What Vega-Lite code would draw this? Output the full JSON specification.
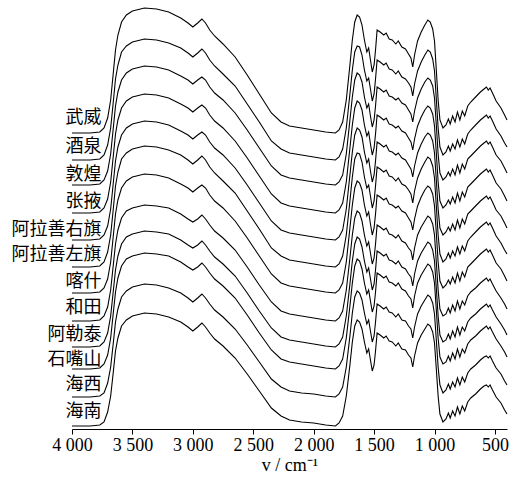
{
  "$schema": "https://vega.github.io/schema/vega-lite/v6.json",
  "autosize": {"type": "none"},
  "width": 435,
  "height": 424,
  "padding": {"left": 72, "right": 3, "top": 5, "bottom": 51},
  "config": {"view": {"stroke": null}, "background": "white"},
  "datasets": {
    "spectra": [
      {"w":4000,"武威":296,"酒泉":269,"敦煌":244,"张掖":216,"阿拉善右旗":189,"阿拉善左旗":162,"喀什":136,"和田":108,"阿勒泰":82,"石嘴山":60,"海西":32,"海南":3},
      {"w":3850,"武威":296,"酒泉":269,"敦煌":244,"张掖":216,"阿拉善右旗":189,"阿拉善左旗":162,"喀什":136,"和田":108,"阿勒泰":82,"石嘴山":60,"海西":32,"海南":3},
      {"w":3770,"武威":297,"酒泉":270,"敦煌":245,"张掖":217,"阿拉善右旗":190,"阿拉善左旗":163,"喀什":137,"和田":109,"阿勒泰":83,"石嘴山":61,"海西":33,"海南":4},
      {"w":3735,"武威":301,"酒泉":274,"敦煌":249,"张掖":221,"阿拉善右旗":194,"阿拉善左旗":167,"喀什":141,"和田":113,"阿勒泰":87,"石嘴山":65,"海西":36,"海南":7},
      {"w":3705,"武威":311,"酒泉":284,"敦煌":258,"张掖":230,"阿拉善右旗":203,"阿拉善左旗":177,"喀什":150,"和田":122,"阿勒泰":96,"石嘴山":74,"海西":46,"海南":17},
      {"w":3680,"武威":329,"酒泉":301,"敦煌":275,"张掖":247,"阿拉善右旗":220,"阿拉善左旗":194,"喀什":167,"和田":139,"阿勒泰":113,"石嘴山":91,"海西":62,"海南":33},
      {"w":3660,"武威":354,"酒泉":325,"敦煌":299,"张掖":271,"阿拉善右旗":244,"阿拉善左旗":218,"喀什":191,"和田":162,"阿勒泰":136,"石嘴山":114,"海西":84,"海南":55},
      {"w":3640,"武威":379,"酒泉":350,"敦煌":323,"张掖":295,"阿拉善右旗":268,"阿拉善左旗":243,"喀什":215,"和田":185,"阿勒泰":159,"石嘴山":137,"海西":107,"海南":78},
      {"w":3620,"武威":394,"酒泉":364,"敦煌":337,"张掖":309,"阿拉善右旗":282,"阿拉善左旗":257,"喀什":229,"和田":199,"阿勒泰":173,"石嘴山":151,"海西":120,"海南":91},
      {"w":3590,"武威":407,"酒泉":377,"敦煌":349,"张掖":321,"阿拉善右旗":294,"阿拉善左旗":270,"喀什":241,"和田":211,"阿勒泰":185,"石嘴山":163,"海西":132,"海南":103},
      {"w":3550,"武威":414,"酒泉":383,"敦煌":356,"张掖":328,"阿拉善右旗":301,"阿拉善左旗":276,"喀什":248,"和田":218,"阿勒泰":192,"石嘴山":170,"海西":138,"海南":109},
      {"w":3500,"武威":418,"酒泉":387,"敦煌":360,"张掖":332,"阿拉善右旗":305,"阿拉善左旗":280,"喀什":252,"和田":221,"阿勒泰":195,"石嘴山":173,"海西":142,"海南":113},
      {"w":3400,"武威":421,"酒泉":390,"敦煌":363,"张掖":335,"阿拉善右旗":308,"阿拉善左旗":283,"喀什":255,"和田":224,"阿勒泰":198,"石嘴山":176,"海西":145,"海南":116},
      {"w":3300,"武威":420,"酒泉":389,"敦煌":362,"张掖":334,"阿拉善右旗":307,"阿拉善左旗":282,"喀什":254,"和田":223,"阿勒泰":197,"石嘴山":175,"海西":144,"海南":115},
      {"w":3200,"武威":417,"酒泉":386,"敦煌":359,"张掖":331,"阿拉善右旗":304,"阿拉善左旗":279,"喀什":251,"和田":221,"阿勒泰":195,"石嘴山":173,"海西":141,"海南":112},
      {"w":3100,"武威":411,"酒泉":381,"敦煌":353,"张掖":325,"阿拉善右旗":298,"阿拉善左旗":274,"喀什":245,"和田":215,"阿勒泰":189,"石嘴山":167,"海西":136,"海南":107},
      {"w":3040,"武威":406,"酒泉":376,"敦煌":349,"张掖":321,"阿拉善右旗":294,"阿拉善左旗":269,"喀什":241,"和田":210,"阿勒泰":184,"石嘴山":162,"海西":131,"海南":102},
      {"w":3000,"武威":402,"酒泉":372,"敦煌":345,"张掖":317,"阿拉善右旗":290,"阿拉善左旗":265,"喀什":237,"和田":207,"阿勒泰":181,"石嘴山":159,"海西":127,"海南":98},
      {"w":2960,"武威":406,"酒泉":376,"敦煌":349,"张掖":321,"阿拉善右旗":294,"阿拉善左旗":269,"喀什":241,"和田":210,"阿勒泰":184,"石嘴山":162,"海西":131,"海南":102},
      {"w":2925,"武威":410,"酒泉":380,"敦煌":352,"张掖":324,"阿拉善右旗":297,"阿拉善左旗":273,"喀什":244,"和田":214,"阿勒泰":188,"石嘴山":166,"海西":135,"海南":106},
      {"w":2895,"武威":406,"酒泉":376,"敦煌":349,"张掖":321,"阿拉善右旗":294,"阿拉善左旗":269,"喀什":241,"和田":210,"阿勒泰":184,"石嘴山":162,"海西":131,"海南":102},
      {"w":2860,"武威":399,"酒泉":369,"敦煌":342,"张掖":314,"阿拉善右旗":287,"阿拉善左旗":262,"喀什":234,"和田":204,"阿勒泰":178,"石嘴山":156,"海西":125,"海南":96},
      {"w":2820,"武威":393,"酒泉":363,"敦煌":336,"张掖":308,"阿拉善右旗":281,"阿拉善左旗":256,"喀什":228,"和田":198,"阿勒泰":172,"石嘴山":150,"海西":119,"海南":90},
      {"w":2750,"武威":385,"酒泉":355,"敦煌":329,"张掖":301,"阿拉善右旗":274,"阿拉善左旗":248,"喀什":221,"和田":191,"阿勒泰":165,"石嘴山":143,"海西":112,"海南":83},
      {"w":2650,"武威":372,"酒泉":343,"敦煌":316,"张掖":288,"阿拉善右旗":261,"阿拉善左旗":236,"喀什":208,"和田":179,"阿勒泰":153,"石嘴山":131,"海西":100,"海南":71},
      {"w":2550,"武威":354,"酒泉":325,"敦煌":299,"张掖":271,"阿拉善右旗":244,"阿拉善左旗":218,"喀什":191,"和田":162,"阿勒泰":136,"石嘴山":114,"海西":84,"海南":55},
      {"w":2450,"武威":335,"酒泉":307,"敦煌":281,"张掖":253,"阿拉善右旗":226,"阿拉善左旗":200,"喀什":173,"和田":144,"阿勒泰":118,"石嘴山":96,"海西":67,"海南":38},
      {"w":2350,"武威":316,"酒泉":288,"敦煌":263,"张掖":235,"阿拉善右旗":208,"阿拉善左旗":181,"喀什":155,"和田":127,"阿勒泰":101,"石嘴山":79,"海西":50,"海南":21},
      {"w":2270,"武威":307,"酒泉":280,"敦煌":254,"张掖":226,"阿拉善右旗":199,"阿拉善左旗":173,"喀什":146,"和田":118,"阿勒泰":92,"石嘴山":70,"海西":42,"海南":13},
      {"w":2200,"武威":303,"酒泉":276,"敦煌":251,"张掖":223,"阿拉善右旗":196,"阿拉善左旗":169,"喀什":143,"和田":115,"阿勒泰":89,"石嘴山":67,"海西":38,"海南":9},
      {"w":2100,"武威":301,"酒泉":274,"敦煌":249,"张掖":221,"阿拉善右旗":194,"阿拉善左旗":167,"喀什":141,"和田":113,"阿勒泰":87,"石嘴山":65,"海西":36,"海南":7},
      {"w":2000,"武威":299,"酒泉":272,"敦煌":247,"张掖":219,"阿拉善右旗":192,"阿拉善左旗":165,"喀什":139,"和田":111,"阿勒泰":85,"石嘴山":63,"海西":35,"海南":6},
      {"w":1900,"武威":297,"酒泉":270,"敦煌":245,"张掖":217,"阿拉善右旗":190,"阿拉善左旗":163,"喀什":137,"和田":109,"阿勒泰":83,"石嘴山":61,"海西":33,"海南":4},
      {"w":1820,"武威":296,"酒泉":269,"敦煌":244,"张掖":216,"阿拉善右旗":189,"阿拉善左旗":162,"喀什":136,"和田":108,"阿勒泰":82,"石嘴山":60,"海西":32,"海南":3},
      {"w":1790,"武威":299,"酒泉":272,"敦煌":247,"张掖":219,"阿拉善右旗":192,"阿拉善左旗":165,"喀什":139,"和田":111,"阿勒泰":85,"石嘴山":63,"海西":35,"海南":6},
      {"w":1760,"武威":307,"酒泉":280,"敦煌":254,"张掖":226,"阿拉善右旗":199,"阿拉善左旗":173,"喀什":146,"和田":118,"阿勒泰":92,"石嘴山":70,"海西":42,"海南":13},
      {"w":1730,"武威":329,"酒泉":301,"敦煌":275,"张掖":247,"阿拉善右旗":220,"阿拉善左旗":194,"喀什":167,"和田":139,"阿勒泰":113,"石嘴山":91,"海西":62,"海南":33},
      {"w":1700,"武威":364,"酒泉":335,"敦煌":309,"张掖":281,"阿拉善右旗":254,"阿拉善左旗":228,"喀什":201,"和田":171,"阿勒泰":145,"石嘴山":123,"海西":93,"海南":64},
      {"w":1680,"武威":389,"酒泉":359,"敦煌":332,"张掖":304,"阿拉善右旗":277,"阿拉善左旗":252,"喀什":224,"和田":194,"阿勒泰":168,"石嘴山":146,"海西":116,"海南":87},
      {"w":1660,"武威":407,"酒泉":377,"敦煌":349,"张掖":321,"阿拉善右旗":294,"阿拉善左旗":270,"喀什":241,"和田":211,"阿勒泰":185,"石嘴山":163,"海西":132,"海南":103},
      {"w":1640,"武威":414,"酒泉":383,"敦煌":356,"张掖":328,"阿拉善右旗":301,"阿拉善左旗":276,"喀什":248,"和田":218,"阿勒泰":192,"石嘴山":170,"海西":138,"海南":109},
      {"w":1620,"武威":412,"酒泉":382,"敦煌":354,"张掖":326,"阿拉善右旗":299,"阿拉善左旗":275,"喀什":246,"和田":216,"阿勒泰":190,"石嘴山":168,"海西":136,"海南":107},
      {"w":1600,"武威":404,"酒泉":374,"敦煌":347,"张掖":319,"阿拉善右旗":292,"阿拉善左旗":267,"喀什":239,"和田":208,"阿勒泰":182,"石嘴山":160,"海西":129,"海南":100},
      {"w":1580,"武威":389,"酒泉":359,"敦煌":332,"张掖":304,"阿拉善右旗":277,"阿拉善左旗":252,"喀什":224,"和田":194,"阿勒泰":168,"石嘴山":146,"海西":116,"海南":87},
      {"w":1560,"武威":377,"酒泉":348,"敦煌":321,"张掖":293,"阿拉善右旗":266,"阿拉善左旗":241,"喀什":213,"和田":183,"阿勒泰":157,"石嘴山":135,"海西":105,"海南":76},
      {"w":1545,"武威":381,"酒泉":351,"敦煌":325,"张掖":297,"阿拉善右旗":270,"阿拉善左旗":244,"喀什":217,"和田":187,"阿勒泰":161,"石嘴山":139,"海西":109,"海南":80},
      {"w":1530,"武威":369,"酒泉":340,"敦煌":313,"张掖":285,"阿拉善右旗":258,"阿拉善左旗":233,"喀什":205,"和田":176,"阿勒泰":150,"石嘴山":128,"海西":98,"海南":69},
      {"w":1515,"武威":357,"酒泉":328,"敦煌":302,"张掖":274,"阿拉善右旗":247,"阿拉善左旗":221,"喀什":194,"和田":165,"阿勒泰":139,"石嘴山":117,"海西":87,"海南":58},
      {"w":1500,"武威":364,"酒泉":335,"敦煌":309,"张掖":281,"阿拉善右旗":254,"阿拉善左旗":228,"喀什":201,"和田":171,"阿勒泰":145,"石嘴山":123,"海西":93,"海南":64},
      {"w":1488,"武威":379,"酒泉":350,"敦煌":323,"张掖":295,"阿拉善右旗":268,"阿拉善左旗":243,"喀什":215,"和田":185,"阿勒泰":159,"石嘴山":137,"海西":107,"海南":78},
      {"w":1475,"武威":399,"酒泉":369,"敦煌":342,"张掖":314,"阿拉善右旗":287,"阿拉善左旗":262,"喀什":234,"和田":204,"阿勒泰":178,"石嘴山":156,"海西":125,"海南":96},
      {"w":1450,"武威":397,"酒泉":367,"敦煌":340,"张掖":312,"阿拉善右旗":285,"阿拉善左旗":260,"喀什":232,"和田":202,"阿勒泰":176,"石嘴山":154,"海西":123,"海南":94},
      {"w":1420,"武威":394,"酒泉":364,"敦煌":337,"张掖":309,"阿拉善右旗":282,"阿拉善左旗":257,"喀什":229,"和田":199,"阿勒泰":173,"石嘴山":151,"海西":120,"海南":91},
      {"w":1400,"武威":396,"酒泉":366,"敦煌":339,"张掖":311,"阿拉善右旗":284,"阿拉善左旗":259,"喀什":231,"和田":201,"阿勒泰":175,"石嘴山":153,"海西":122,"海南":93},
      {"w":1375,"武威":390,"酒泉":360,"敦煌":333,"张掖":305,"阿拉善右旗":278,"阿拉善左旗":253,"喀什":225,"和田":195,"阿勒泰":169,"石嘴山":147,"海西":117,"海南":88},
      {"w":1350,"武威":389,"酒泉":359,"敦煌":332,"张掖":304,"阿拉善右旗":277,"阿拉善左旗":252,"喀什":224,"和田":194,"阿勒泰":168,"石嘴山":146,"海西":116,"海南":87},
      {"w":1320,"武威":385,"酒泉":355,"敦煌":329,"张掖":301,"阿拉善右旗":274,"阿拉善左旗":248,"喀什":221,"和田":191,"阿勒泰":165,"石嘴山":143,"海西":112,"海南":83},
      {"w":1300,"武威":388,"酒泉":358,"敦煌":331,"张掖":303,"阿拉善右旗":276,"阿拉善左旗":251,"喀什":223,"和田":194,"阿勒泰":168,"石嘴山":146,"海西":115,"海南":86},
      {"w":1270,"武威":382,"酒泉":352,"敦煌":326,"张掖":298,"阿拉善右旗":271,"阿拉善左旗":245,"喀什":218,"和田":188,"阿勒泰":162,"石嘴山":140,"海西":109,"海南":80},
      {"w":1240,"武威":380,"酒泉":350,"敦煌":324,"张掖":296,"阿拉善右旗":269,"阿拉善左旗":243,"喀什":216,"和田":186,"阿勒泰":160,"石嘴山":138,"海西":108,"海南":79},
      {"w":1215,"武威":375,"酒泉":346,"敦煌":319,"张掖":291,"阿拉善右旗":264,"阿拉善左旗":239,"喀什":211,"和田":181,"阿勒泰":155,"石嘴山":133,"海西":103,"海南":74},
      {"w":1195,"武威":371,"酒泉":342,"敦煌":315,"张掖":287,"阿拉善右旗":260,"阿拉善左旗":235,"喀什":207,"和田":178,"阿勒泰":152,"石嘴山":130,"海西":100,"海南":71},
      {"w":1180,"武威":362,"酒泉":333,"敦煌":307,"张掖":279,"阿拉善右旗":252,"阿拉善左旗":226,"喀什":199,"和田":169,"阿勒泰":143,"石嘴山":121,"海西":91,"海南":62},
      {"w":1165,"武威":374,"酒泉":345,"敦煌":318,"张掖":290,"阿拉善右旗":263,"阿拉善左旗":238,"喀什":210,"和田":181,"阿勒泰":155,"石嘴山":133,"海西":102,"海南":73},
      {"w":1140,"武威":388,"酒泉":358,"敦煌":331,"张掖":303,"阿拉善右旗":276,"阿拉善左旗":251,"喀什":223,"和田":194,"阿勒泰":168,"石嘴山":146,"海西":115,"海南":86},
      {"w":1110,"武威":397,"酒泉":367,"敦煌":340,"张掖":312,"阿拉善右旗":285,"阿拉善左旗":260,"喀什":232,"和田":202,"阿勒泰":176,"石嘴山":154,"海西":123,"海南":94},
      {"w":1080,"武威":404,"酒泉":374,"敦煌":347,"张掖":319,"阿拉善右旗":292,"阿拉善左旗":267,"喀什":239,"和田":208,"阿勒泰":182,"石嘴山":160,"海西":129,"海南":100},
      {"w":1055,"武威":409,"酒泉":379,"敦煌":351,"张掖":323,"阿拉善右旗":296,"阿拉善左旗":272,"喀什":243,"和田":213,"阿勒泰":187,"石嘴山":165,"海西":134,"海南":105},
      {"w":1035,"武威":407,"酒泉":377,"敦煌":349,"张掖":321,"阿拉善右旗":294,"阿拉善左旗":270,"喀什":241,"和田":211,"阿勒泰":185,"石嘴山":163,"海西":132,"海南":103},
      {"w":1015,"武威":400,"酒泉":370,"敦煌":343,"张掖":315,"阿拉善右旗":288,"阿拉善左旗":263,"喀什":235,"和田":205,"阿勒泰":179,"石嘴山":157,"海西":126,"海南":97},
      {"w":1000,"武威":388,"酒泉":358,"敦煌":331,"张掖":303,"阿拉善右旗":276,"阿拉善左旗":251,"喀什":223,"和田":194,"阿勒泰":168,"石嘴山":146,"海西":115,"海南":86},
      {"w":985,"武威":359,"酒泉":330,"敦煌":304,"张掖":276,"阿拉善右旗":249,"阿拉善左旗":223,"喀什":196,"和田":167,"阿勒泰":141,"石嘴山":119,"海西":89,"海南":60},
      {"w":970,"武威":329,"酒泉":301,"敦煌":275,"张掖":247,"阿拉善右旗":220,"阿拉善左旗":194,"喀什":167,"和田":139,"阿勒泰":113,"石嘴山":91,"海西":62,"海南":33},
      {"w":955,"武威":309,"酒泉":282,"敦煌":256,"张掖":228,"阿拉善右旗":201,"阿拉善左旗":175,"喀什":148,"和田":120,"阿勒泰":94,"石嘴山":72,"海西":44,"海南":15},
      {"w":930,"武威":301,"酒泉":274,"敦煌":249,"张掖":221,"阿拉善右旗":194,"阿拉善左旗":167,"喀什":141,"和田":113,"阿勒泰":87,"石嘴山":65,"海西":36,"海南":7},
      {"w":905,"武威":304,"酒泉":277,"敦煌":252,"张掖":224,"阿拉善右旗":197,"阿拉善左旗":170,"喀什":144,"和田":115,"阿勒泰":89,"石嘴山":67,"海西":39,"海南":10},
      {"w":885,"武威":310,"酒泉":283,"敦煌":257,"张掖":229,"阿拉善右旗":202,"阿拉善左旗":176,"喀什":149,"和田":121,"阿勒泰":95,"石嘴山":73,"海西":45,"海南":16},
      {"w":870,"武威":305,"酒泉":278,"敦煌":253,"张掖":225,"阿拉善右旗":198,"阿拉善左旗":171,"喀什":145,"和田":116,"阿勒泰":90,"石嘴山":68,"海西":40,"海南":11},
      {"w":850,"武威":313,"酒泉":285,"敦煌":260,"张掖":232,"阿拉善右旗":205,"阿拉善左旗":178,"喀什":152,"和田":124,"阿勒泰":98,"石嘴山":76,"海西":47,"海南":18},
      {"w":830,"武威":307,"酒泉":280,"敦煌":254,"张掖":226,"阿拉善右旗":199,"阿拉善左旗":173,"喀什":146,"和田":118,"阿勒泰":92,"石嘴山":70,"海西":42,"海南":13},
      {"w":810,"武威":317,"酒泉":289,"敦煌":264,"张掖":236,"阿拉善右旗":209,"阿拉善左旗":182,"喀什":156,"和田":128,"阿勒泰":102,"石嘴山":80,"海西":51,"海南":22},
      {"w":790,"武威":309,"酒泉":282,"敦煌":256,"张掖":228,"阿拉善右旗":201,"阿拉善左旗":175,"喀什":148,"和田":120,"阿勒泰":94,"石嘴山":72,"海西":44,"海南":15},
      {"w":770,"武威":318,"酒泉":290,"敦煌":265,"张掖":237,"阿拉善右旗":210,"阿拉善左旗":183,"喀什":157,"和田":128,"阿勒泰":102,"石嘴山":80,"海西":52,"海南":23},
      {"w":750,"武威":313,"酒泉":285,"敦煌":260,"张掖":232,"阿拉善右旗":205,"阿拉善左旗":178,"喀什":152,"和田":124,"阿勒泰":98,"石嘴山":76,"海西":47,"海南":18},
      {"w":725,"武威":323,"酒泉":295,"敦煌":270,"张掖":242,"阿拉善右旗":215,"阿拉善左旗":188,"喀什":162,"和田":133,"阿勒泰":107,"石嘴山":85,"海西":56,"海南":27},
      {"w":700,"武威":327,"酒泉":299,"敦煌":273,"张掖":245,"阿拉善右旗":218,"阿拉善左旗":192,"喀什":165,"和田":137,"阿勒泰":111,"石嘴山":89,"海西":60,"海南":31},
      {"w":660,"武威":332,"酒泉":304,"敦煌":278,"张掖":250,"阿拉善右旗":223,"阿拉善左旗":197,"喀什":170,"和田":141,"阿勒泰":115,"石嘴山":93,"海西":64,"海南":35},
      {"w":620,"武威":337,"酒泉":309,"敦煌":283,"张掖":255,"阿拉善右旗":228,"阿拉善左旗":202,"喀什":175,"和田":146,"阿勒泰":120,"石嘴山":98,"海西":69,"海南":40},
      {"w":590,"武威":340,"酒泉":312,"敦煌":286,"张掖":258,"阿拉善右旗":231,"阿拉善左旗":205,"喀什":178,"和田":149,"阿勒泰":123,"石嘴山":101,"海西":72,"海南":43},
      {"w":570,"武威":342,"酒泉":314,"敦煌":288,"张掖":260,"阿拉善右旗":233,"阿拉善左旗":207,"喀什":180,"和田":151,"阿勒泰":125,"石嘴山":103,"海西":73,"海南":44},
      {"w":555,"武威":339,"酒泉":311,"敦煌":285,"张掖":257,"阿拉善右旗":230,"阿拉善左旗":204,"喀什":177,"和田":148,"阿勒泰":122,"石嘴山":100,"海西":71,"海南":42},
      {"w":540,"武威":341,"酒泉":313,"敦煌":287,"张掖":259,"阿拉善右旗":232,"阿拉善左旗":206,"喀什":179,"和田":150,"阿勒泰":124,"石嘴山":102,"海西":73,"海南":44},
      {"w":520,"武威":336,"酒泉":308,"敦煌":282,"张掖":254,"阿拉善右旗":227,"阿拉善左旗":201,"喀什":174,"和田":145,"阿勒泰":119,"石嘴山":97,"海西":68,"海南":39},
      {"w":490,"武威":328,"酒泉":300,"敦煌":274,"张掖":246,"阿拉善右旗":219,"阿拉善左旗":193,"喀什":166,"和田":138,"阿勒泰":112,"石嘴山":90,"海西":61,"海南":32},
      {"w":450,"武威":321,"酒泉":293,"敦煌":268,"张掖":240,"阿拉善右旗":213,"阿拉善左旗":186,"喀什":160,"和田":131,"阿勒泰":105,"石嘴山":83,"海西":55,"海南":26},
      {"w":420,"武威":314,"酒泉":286,"敦煌":261,"张掖":233,"阿拉善右旗":206,"阿拉善左旗":179,"喀什":153,"和田":125,"阿勒泰":99,"石嘴山":77,"海西":48,"海南":19},
      {"w":400,"武威":309,"酒泉":282,"敦煌":256,"张掖":228,"阿拉善右旗":201,"阿拉善左旗":175,"喀什":148,"和田":120,"阿勒泰":94,"石嘴山":72,"海西":44,"海南":15}
    ],
    "labels": [
      {"site":"武威","w":3755,"y":311},
      {"site":"酒泉","w":3755,"y":282},
      {"site":"敦煌","w":3755,"y":254},
      {"site":"张掖","w":3755,"y":227},
      {"site":"阿拉善右旗","w":3755,"y":199},
      {"site":"阿拉善左旗","w":3755,"y":174},
      {"site":"喀什","w":3755,"y":147},
      {"site":"和田","w":3755,"y":121},
      {"site":"阿勒泰","w":3755,"y":94},
      {"site":"石嘴山","w":3755,"y":69},
      {"site":"海西","w":3755,"y":44},
      {"site":"海南","w":3755,"y":17}
    ]
  },
  "layer": [
    {
      "data": {"name": "spectra"},
      "transform": [
        {"fold": ["武威","酒泉","敦煌","张掖","阿拉善右旗","阿拉善左旗","喀什","和田","阿勒泰","石嘴山","海西","海南"], "as": ["site","y"]}
      ],
      "mark": {"type": "line", "color": "black", "strokeWidth": 1.1},
      "encoding": {
        "x": {
          "field": "w", "type": "quantitative",
          "scale": {"domain": [4000, 400], "nice": false, "zero": false},
          "axis": {
            "values": [4000,3500,3000,2500,2000,1500,1000,500],
            "labelExpr": "replace(format(datum.value, ','), ',', ' ')",
            "labelOverlap": false,
            "labelFlush": false,
            "title": "v / cm⁻¹",
            "grid": false,
            "domainColor": "black", "tickColor": "black", "labelColor": "black", "titleColor": "black",
            "tickSize": 5, "labelFont": "Liberation Serif", "labelFontSize": 18,
            "titleFont": "Liberation Serif", "titleFontSize": 18, "titleFontWeight": "normal",
            "labelPadding": 2, "titlePadding": 2
          }
        },
        "y": {"field": "y", "type": "quantitative", "scale": {"domain": [0, 424], "nice": false, "zero": false}, "axis": null},
        "detail": {"field": "site"}
      }
    },
    {
      "data": {"name": "labels"},
      "mark": {"type": "text", "align": "right", "baseline": "middle", "font": "Noto Sans CJK SC", "fontSize": 18, "color": "black"},
      "encoding": {
        "x": {"field": "w", "type": "quantitative"},
        "y": {"field": "y", "type": "quantitative"},
        "text": {"field": "site"}
      }
    }
  ]
}
